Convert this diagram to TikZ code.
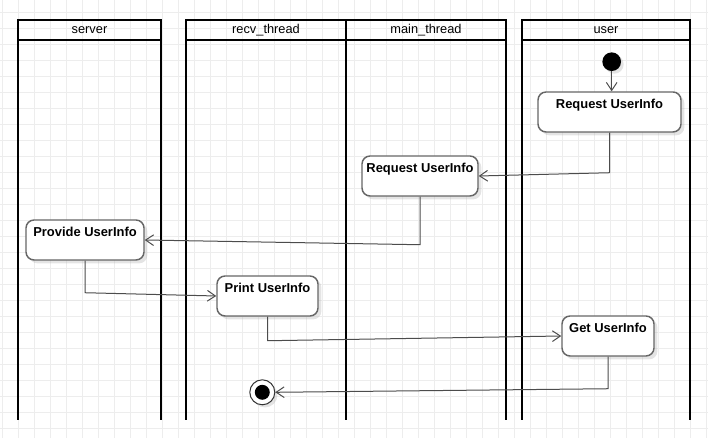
\documentclass[tikz,border=0pt]{standalone}
\usepackage{fontspec}
\setmainfont{Liberation Sans}
\usetikzlibrary{arrows.meta,shadows}

\begin{document}
\begin{tikzpicture}[x=.75pt, y=-.75pt,
    gridline/.style={draw=black!7, line width=.5pt},
    lane/.style={line width=1.5pt},
    lanetitle/.style={font=\fontsize{9.6}{11}\selectfont},
    act/.style={draw=black!60, line width=1.1pt, rounded corners=6pt, fill=white,
        minimum height=30pt, inner sep=0pt,
        drop shadow={shadow xshift=2.5pt, shadow yshift=-2.5pt, fill=black!30, opacity=.35}},
    acttitle/.style={anchor=north, yshift=-5.5pt, inner sep=0pt, font=\bfseries\fontsize{9.7}{11}\selectfont},
    flow/.style={draw=black!70, line width=.75pt, -{Straight Barb[length=6pt,width=8pt]}}]
    \useasboundingbox (0,0) rectangle (708,438);
    % grid
    \foreach \gx in {2.7,18.7,...,708} \draw [gridline] (\gx,0) -- (\gx,438);
    \foreach \gy in {12,28,...,438} \draw [gridline] (0,\gy) -- (708,\gy);
    % swimlanes
    \draw [lane] (18,420) |- (161,20) -- (161,420);
    \draw [lane] (18,40) -- (161,40);
    \draw [lane] (186,420) |- (506,20) -- (506,420);
    \draw [lane] (346,20) -- (346,420);
    \draw [lane] (186,40) -- (506,40);
    \draw [lane] (522,420) |- (690,20) -- (690,420);
    \draw [lane] (522,40) -- (690,40);
    \node [lanetitle] (server) at (89.5,30) {server};
    \node [lanetitle] (recv) at (266,30) {recv\_thread};
    \node [lanetitle] (main) at (426,30) {main\_thread};
    \node [lanetitle] (user) at (606,30) {user};
    % activities
    \node [circle, fill=black, minimum size=14pt, inner sep=0pt,
        drop shadow={shadow xshift=2pt, shadow yshift=-2pt, fill=black!30, opacity=.35}] (start) at (611.7,61.7) {};
    \node [act, minimum width=107.25pt, label={[acttitle]north:Request UserInfo}] (ureq) at (609.5,112) {};
    \node [act, minimum width=87pt, label={[acttitle]north:Request UserInfo}] (mreq) at (420,176) {};
    \node [act, minimum width=88.5pt, label={[acttitle]north:Provide UserInfo}] (sprov) at (85,240) {};
    \node [act, minimum width=75.75pt, label={[acttitle]north:Print UserInfo}] (rprint) at (267.5,296) {};
    \node [act, minimum width=69pt, label={[acttitle]north:Get UserInfo}] (uget) at (608,336) {};
    \node [circle, draw=black!80, fill=white, line width=.75pt, minimum size=18.75pt, inner sep=0pt,
        drop shadow={shadow xshift=2pt, shadow yshift=-2pt, fill=black!30, opacity=.35}] (stop) at (262.3,392.3) {};
    \fill (stop.center) circle [radius=5.6pt];
    % flows
    \draw [flow] (start) -- (start |- ureq.north);
    \draw [flow] (ureq.south) -- ++(0,40) -- (mreq.east);
    \draw [flow] (mreq.south) -- ++(0,48) -- (sprov.east);
    \draw [flow] (sprov.south) -- ++(0,32) -- (rprint.west);
    \draw [flow] (rprint.south) -- ++(0,24) -- (uget.west);
    \draw [flow] (uget.south) -- ++(0,32) -- (stop.east);
\end{tikzpicture}
\end{document}
